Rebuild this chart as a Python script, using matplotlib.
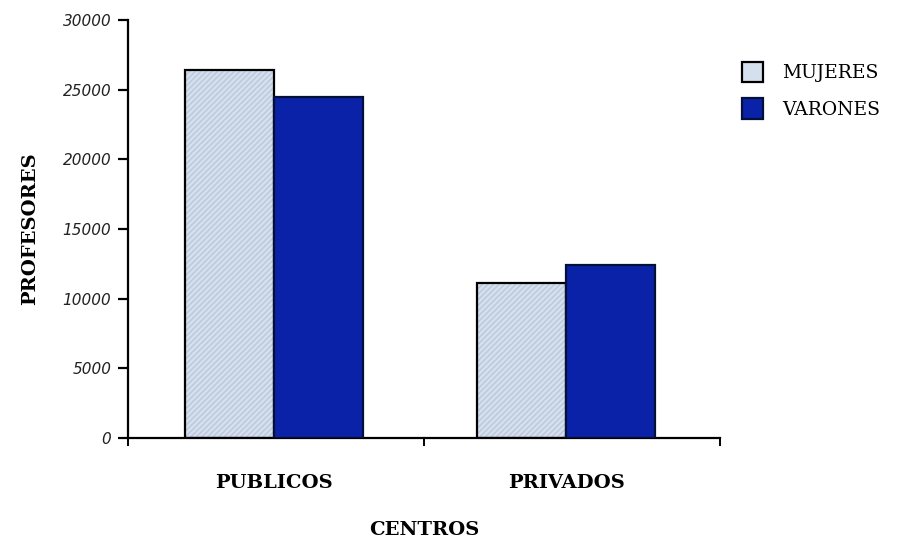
import matplotlib
matplotlib.use("Agg")
import matplotlib.pyplot as plt
import numpy as np
from matplotlib.patches import Patch

categorias = ["PUBLICOS", "PRIVADOS"]
mujeres = [26400, 11100]
varones = [24500, 12400]
series = ["MUJERES", "VARONES"]
yticks = [0, 5000, 10000, 15000, 20000, 25000, 30000]

col_muj = "#d5e0ee"
col_var = "#0a22a8"

fig = plt.figure(figsize=(9.06, 5.42), dpi=100)
ax = fig.add_axes([0.1413, 0.1919, 0.6534, 0.7712])

x = np.arange(len(categorias))
w = 0.305

# mujeres: fondo claro con textura suave
ax.bar(x - w / 2, mujeres, w, color=col_muj, edgecolor="#bac8da", hatch="//////", linewidth=0, zorder=2)
ax.bar(x - w / 2, mujeres, w, fill=False, edgecolor="black", linewidth=1.6, zorder=3)
ax.bar(x + w / 2, varones, w, color=col_var, edgecolor="#05103a", linewidth=1.6, zorder=3)

ax.set_xlim(-0.5, 1.527)
ax.set_ylim(0, 30000)

for s in ["top", "right"]:
    ax.spines[s].set_visible(False)
ax.spines["left"].set_linewidth(1.6)
ax.spines["bottom"].set_linewidth(1.6)

ax.set_yticks(yticks)
ax.set_yticklabels([str(v) for v in yticks], family="DejaVu Sans", style="italic", fontsize=11, color="#222222")
ax.tick_params(axis="y", direction="out", length=7, width=1.6, pad=5)

ax.set_xticks(x)
ax.set_xticklabels(categorias, family="DejaVu Serif", fontweight="bold", fontsize=14)
ax.tick_params(axis="x", which="major", length=0, pad=26)
ax.set_xticks([-0.5, 0.514, 1.527], minor=True)
ax.tick_params(axis="x", which="minor", direction="out", length=6, width=1.4)

ax.set_ylabel("PROFESORES", family="DejaVu Serif", fontweight="bold", fontsize=14, labelpad=17)
ax.set_xlabel("CENTROS", family="DejaVu Serif", fontweight="bold", fontsize=14, labelpad=21)

handles = [
    Patch(facecolor=col_muj, edgecolor="black", linewidth=1.6),
    Patch(facecolor=col_var, edgecolor="#05103a", linewidth=1.6),
]
fig.legend(handles, series, loc="upper left", bbox_to_anchor=(0.8, 0.917), frameon=False,
           prop={"family": "DejaVu Serif", "size": 13.5}, handlelength=1.15, handleheight=1.3,
           handletextpad=1.0, labelspacing=0.85)

fig.savefig("out.png", dpi=100)
